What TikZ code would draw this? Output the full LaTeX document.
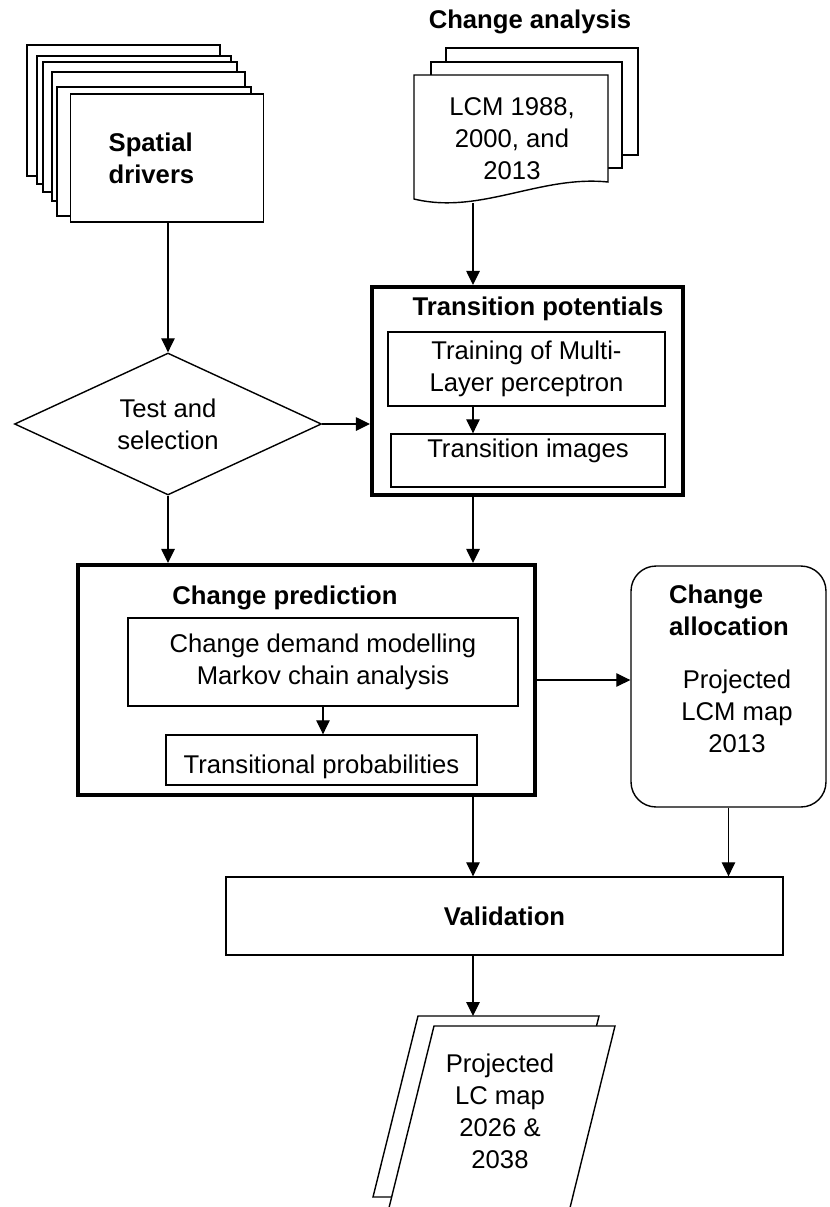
\documentclass[tikz,border=0pt]{standalone}
\usepackage{fontspec}
\setmainfont{Liberation Sans}
\usetikzlibrary{arrows.meta, positioning, shapes.geometric}

\begin{document}
\begin{tikzpicture}[
  x=0.02cm, y=-0.02cm,
  >={Triangle[length=2.8mm, width=2.7mm]},
  every node/.style={font=\fontsize{14.6}{18.2}\selectfont},
  strong/.style={font=\fontsize{14.6}{18.2}\selectfont\bfseries, inner sep=0pt},
  sheet/.style={draw, fill=white, line width=0.8pt},
  box/.style={draw, fill=white, line width=0.8pt, align=center, inner sep=0pt},
  frame/.style={draw, fill=white, line width=2.4pt, inner sep=0pt},
  flow/.style={->, line width=0.7pt}
]
\clip (0,0) rectangle (830,1207);
\coordinate (spine) at (473,0);
% spatial drivers (stacked sheets)
\foreach \l/\t/\r/\b in {27/45/220/176, 37/56/231/184, 43/62/237/192, 52/72/245/201, 57/87/251/216}
  \draw[sheet] (\l,\t) rectangle (\r,\b);
\node[box, strong, anchor=west, minimum height=2.56cm, text width=2.34cm,
      inner xsep=0.76cm, align=left] (drivers) at (70,158) {Spatial\\drivers};
% change analysis
\node[strong] (catitle) at (530,21.5) {Change analysis};
\draw[sheet] (446,48) rectangle (638,155);
\draw[sheet] (431,62) rectangle (622,168);
\draw[sheet] (414,75) -- (608,75) -- (608,182)
  .. controls (540,175) and (480,215) .. (414,199) -- cycle;
\node[align=center, inner sep=0pt] (lcm) at (512,139) {LCM 1988,\\2000, and\\2013};
\coordinate (lcmfoot) at (473,203);
% test and selection
\node[diamond, draw, fill=white, line width=0.8pt, aspect=2.16, minimum width=6.14cm,
      minimum height=2.84cm, inner sep=0pt, align=center] (test) at (168,424) {Test and\\selection};
% transition potentials
\node[frame, minimum width=6.22cm, minimum height=4.16cm] (tpot) at (527.5,391) {};
\node[strong] (tpottitle) at (538,308.5) {Transition potentials};
\node[box, minimum width=5.54cm, minimum height=1.48cm] (mlp) at (526.5,369)
  {Training of Multi-\\Layer perceptron};
\node[box, minimum width=5.48cm, minimum height=1.06cm, text height=0.36cm,
      text depth=0.48cm] (timg) at (528,460.5) {Transition images};
% change prediction
\node[frame, minimum width=9.14cm, minimum height=4.6cm] (pred) at (306.5,680) {};
\node[strong] (predtitle) at (285,598) {Change prediction};
\node[box, minimum width=7.8cm, minimum height=1.76cm] (markov) at (323,662)
  {Change demand modelling\\Markov chain analysis};
\node[box, minimum width=6.22cm, minimum height=1.0cm, text height=0.64cm,
      text depth=0.1cm] (tprob) at (321.5,760) {Transitional probabilities};
% change allocation
\node[draw, fill=white, line width=0.8pt, rounded corners=0.5cm, minimum width=3.9cm,
      minimum height=4.82cm] (alloc) at (728.5,686.5) {};
\node[strong, align=left] (alloctitle) at (729,610) {Change\\allocation};
\node[align=center, inner sep=0pt] (allocbody) at (737,711) {Projected\\LCM map\\2013};
% validation
\node[box, strong, minimum width=11.14cm, minimum height=1.56cm] (valid) at (504.5,916) {Validation};
% projected maps
\draw[sheet] (418,1016) -- (599,1016) -- (554,1197) -- (373,1197) -- cycle;
\draw[sheet] (434,1026) -- (615,1026) -- (562,1240) -- (381,1240) -- cycle;
\node[align=center, inner sep=0pt] (outmap) at (500,1111) {Projected\\LC map\\2026 \&\\2038};
\coordinate (outtop) at (473,1016);
% connectors
\draw[flow] (drivers.south -| test.north) -- (test.north);
\draw[flow] (lcmfoot) -- (lcmfoot |- tpot.north);
\draw[flow] (test.east) -- (test.east -| tpot.west);
\draw[flow] (mlp.south -| spine) -- (timg.north -| spine);
\draw[flow] (test.south) -- (test.south |- pred.north);
\draw[flow] (tpot.south -| spine) -- (pred.north -| spine);
\draw[flow] (markov.south) -- (markov.south |- tprob.north);
\draw[flow] (pred.east) -- (pred.east -| alloc.west);
\draw[flow] (pred.south -| spine) -- (valid.north -| spine);
\draw[flow] (alloc.south) -- (alloc.south |- valid.north);
\draw[flow] (valid.south -| spine) -- (outtop);
\end{tikzpicture}
\end{document}
